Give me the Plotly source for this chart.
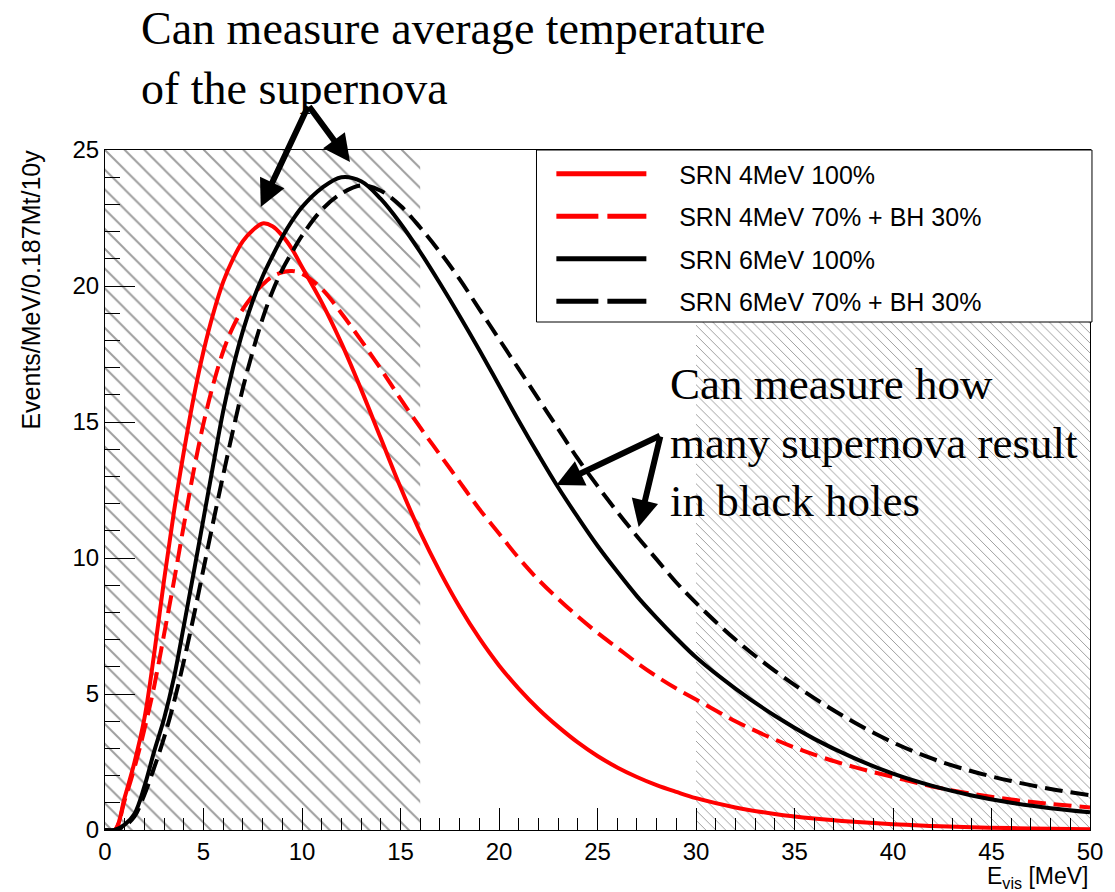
import plotly.graph_objects as go

# Visible energy bin centres [MeV]
energy = [0, 0.5, 1, 1.5, 2, 2.5, 3, 3.5, 4, 4.5, 5, 5.5, 6, 6.5, 7, 7.5, 8, 8.5, 9, 9.5, 10,
          11, 12, 13, 14, 15, 16, 17, 18, 19, 20, 21, 22, 23, 24, 25, 26, 27, 28, 29, 30,
          32, 34, 36, 38, 40, 42, 44, 46, 48, 50]

# Expected events per MeV (0.187 Mt x 10 y)
srn4_100 = [0, 0, 1.2, 2.5, 4.1, 6.5, 9.2, 11.7, 13.9, 15.9, 17.6, 19.0, 20.15, 21.0, 21.65, 22.05, 22.3, 22.2, 21.85, 21.35, 20.7,
            19.4, 17.9, 16.2, 14.4, 12.6, 10.95, 9.5, 8.2, 7.05, 6.05, 5.2, 4.45, 3.8, 3.22, 2.72, 2.3, 1.95, 1.65, 1.4, 1.17,
            0.83, 0.59, 0.42, 0.3, 0.21, 0.15, 0.1, 0.07, 0.05, 0.03]
srn4_70_bh30 = [0, 0, 1.1, 2.3, 3.7, 5.3, 7.2, 9.15, 11.2, 13.2, 14.95, 16.4, 17.6, 18.5, 19.15, 19.65, 20.05, 20.35, 20.5, 20.55, 20.45,
                19.9, 19.0, 18.0, 16.95, 15.85, 14.8, 13.8, 12.8, 11.8, 10.9, 10.0, 9.2, 8.5, 7.85, 7.25, 6.7, 6.15, 5.65, 5.2, 4.8,
                4.0, 3.33, 2.77, 2.32, 1.95, 1.6, 1.33, 1.12, 0.96, 0.83]
srn6_100 = [0, 0, 0.2, 0.6, 1.6, 2.9, 4.1, 5.6, 7.5, 9.45, 11.45, 13.45, 15.4, 17.0, 18.35, 19.45, 20.35, 21.1, 21.8, 22.4, 22.9,
            23.6, 24.0, 23.85, 23.2, 22.3, 21.25, 20.1, 18.9, 17.65, 16.35, 15.05, 13.8, 12.6, 11.5, 10.45, 9.5, 8.6, 7.8, 7.05, 6.35,
            5.2, 4.2, 3.35, 2.65, 2.07, 1.62, 1.27, 1.0, 0.8, 0.65]
srn6_70_bh30 = [0, 0, 0.15, 0.5, 1.3, 2.3, 3.4, 4.7, 6.2, 7.85, 9.6, 11.35, 13.05, 14.7, 16.25, 17.6, 18.8, 19.8, 20.6, 21.25, 21.85,
                22.8, 23.4, 23.7, 23.5, 22.95, 22.15, 21.25, 20.25, 19.15, 18.05, 16.95, 15.85, 14.75, 13.65, 12.65, 11.7, 10.8, 9.95, 9.1, 8.35,
                7.0, 5.85, 4.85, 3.97, 3.22, 2.62, 2.16, 1.8, 1.51, 1.28]

series_names = ["SRN 4MeV 100%", "SRN 4MeV 70% + BH 30%", "SRN 6MeV 100%", "SRN 6MeV 70% + BH 30%"]

# Energy windows dominated by backgrounds (hatched)
low_window = (0, 16)
high_window = (30, 50)
x_range = (0, 50)
y_range = (0, 25)

W, H = 1115, 892
ML, MR, MT, MB = 105, 17, 150, 62
PW, PH = W - ML - MR, H - MT - MB


def px(xp):
    return (xp - ML) / PW


def py(yp):
    return (H - MB - yp) / PH


SANS = "Liberation Sans, Arial, sans-serif"
SERIF = "Liberation Serif, Times New Roman, serif"

fig = go.Figure()

# hatched background windows
for (lo, hi), size in ((low_window, 14), (high_window, 7)):
    fig.add_trace(go.Scatter(
        x=[lo, hi, hi, lo, lo], y=[y_range[0], y_range[0], y_range[1], y_range[1], y_range[0]],
        mode="lines", fill="toself", line=dict(width=0), fillcolor="rgba(0,0,0,0)",
        fillpattern=dict(shape="\\", size=size, solidity=0.14, fgcolor="#3c3c3c",
                         bgcolor="rgba(0,0,0,0)"),
        hoverinfo="skip", showlegend=False))

styles = [
    ("#ff0000", "solid", "solid"),
    ("#ff0000", "18px,8px", "42px,9px"),
    ("#000000", "solid", "solid"),
    ("#000000", "18px,8px", "42px,9px"),
]
curves = [srn4_100, srn4_70_bh30, srn6_100, srn6_70_bh30]

for name, vals, (col, dash, _) in zip(series_names, curves, styles):
    fig.add_trace(go.Scatter(
        x=energy, y=vals, mode="lines", name=name,
        line=dict(color=col, width=4, dash=dash, shape="spline", smoothing=1.0),
        showlegend=False))

# legend entries
NBSP = "\u00a0"
for i, (name, (col, _, ldash)) in enumerate(zip(series_names, styles)):
    fig.add_trace(go.Scatter(
        x=[None], y=[None], mode="lines", name=NBSP * 4 + name, legendgroup=f"g{i}",
        line=dict(color=col, width=5, dash=ldash)))

axis_common = dict(
    showline=True, linecolor="black", linewidth=1, mirror=True,
    showgrid=False, zeroline=False, ticks="inside", tickcolor="black", tickwidth=1,
    tickfont=dict(family=SANS, size=24, color="black"),
)

fig.update_layout(
    width=W, height=H,
    margin=dict(l=ML, r=MR, t=MT, b=MB),
    paper_bgcolor="white", plot_bgcolor="white",
    xaxis=dict(range=list(x_range), dtick=5, ticklen=22,
               minor=dict(ticks="inside", ticklen=12, dtick=1, tickcolor="black", showgrid=False),
               **axis_common),
    yaxis=dict(range=list(y_range), dtick=5, ticklen=30,
               minor=dict(ticks="inside", ticklen=15, dtick=1, tickcolor="black", showgrid=False),
               **axis_common),
    legend=dict(x=px(555), y=py(151), xanchor="left", yanchor="top",
                bgcolor="rgba(0,0,0,0)", borderwidth=0,
                font=dict(family=SANS, size=25, color="black"),
                itemwidth=90, tracegroupgap=7),
    showlegend=True,
)

# legend frame
fig.add_shape(type="rect", xref="paper", yref="paper",
              x0=px(540), x1=px(1100), y0=py(322), y1=py(150),
              fillcolor="white", line=dict(color="black", width=1), layer="above")

# axis titles
fig.add_annotation(text="E<sub>vis</sub> [MeV]", xref="paper", yref="paper",
                   x=px(1098), y=py(894), xanchor="right", yanchor="bottom",
                   showarrow=False, font=dict(family=SANS, size=23, color="black"))
fig.add_annotation(text="Events/MeV/0.187Mt/10y", xref="paper", yref="paper",
                   x=px(30), y=py(290), textangle=-90, xanchor="center", yanchor="middle",
                   showarrow=False, font=dict(family=SANS, size=25, color="black"))

# callout texts
fig.add_annotation(text="Can measure average temperature<br>of the supernova",
                   xref="paper", yref="paper", x=px(139), y=py(1),
                   xanchor="left", yanchor="top", align="left", showarrow=False,
                   font=dict(family=SERIF, size=46, color="black"))
fig.add_annotation(text="Can measure how<br>many supernova result<br>in black holes",
                   xref="paper", yref="paper", x=px(673), y=py(357),
                   xanchor="left", yanchor="top", align="left", showarrow=False,
                   font=dict(family=SERIF, size=45, color="black"))

# callout arrows (tail -> head, pixel positions)
arrows = [((310, 105), (262, 207)), ((310, 105), (352, 162)),
          ((665, 435), (560, 485)), ((665, 435), (643, 527))]
for (tx, ty), (hx, hy) in arrows:
    fig.add_annotation(text="", xref="paper", yref="paper", axref="pixel", ayref="pixel",
                       x=px(hx), y=py(hy), ax=tx - hx, ay=ty - hy,
                       showarrow=True, arrowhead=2, arrowsize=0.9, arrowwidth=6,
                       arrowcolor="black")

fig.write_html("out.html")
